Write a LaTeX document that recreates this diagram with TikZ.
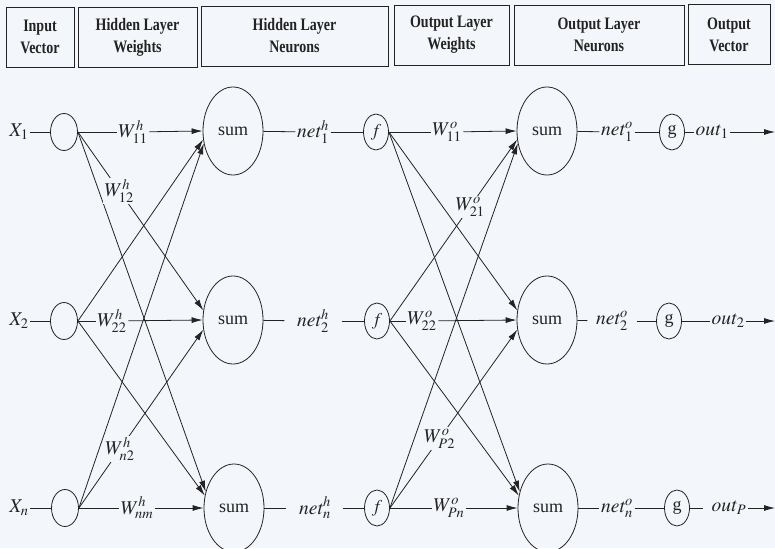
\documentclass[tikz,border=0pt]{standalone}
\usepackage{mathptmx}
\usepackage{fontspec}
\setmainfont{Liberation Serif}
\newfontfamily\hdrfont{Liberation Serif}[FakeStretch=0.8]
\usetikzlibrary{shapes.geometric,arrows.meta}
\definecolor{bg}{RGB}{243,246,250}
\definecolor{ink}{RGB}{35,35,35}
\begin{document}
\begin{tikzpicture}[x=1pt,y=-1pt,
  every node/.style={font=\fontsize{18}{21}\selectfont, text=ink},
  hdr/.style={draw=ink, line width=0.8pt, align=center, inner sep=0pt,
    font=\hdrfont\bfseries\fontsize{17.5}{22}\selectfont},
  innode/.style={ellipse, draw=ink, line width=0.8pt, minimum width=27pt, minimum height=37pt, inner sep=0pt},
  sumnode/.style={ellipse, draw=ink, line width=0.8pt, minimum width=60pt, minimum height=88pt, inner sep=0pt},
  fnode/.style={ellipse, draw=ink, line width=0.8pt, minimum width=25pt, minimum height=36pt, inner sep=0pt},
  lbl/.style={fill=bg, inner sep=1.5pt, font=\fontsize{19.5}{22}\selectfont},
  wire/.style={draw=ink, line width=0.8pt},
  arr/.style={wire, -{Latex[length=11pt,width=6pt]}}]
\fill[bg] (0,0) rectangle (775,548);
\useasboundingbox (0,0) rectangle (775,548);

% header
\node[hdr, minimum width=68pt, minimum height=60pt] (h1) at (40,37) {Input\\Vector};
\node[hdr, minimum width=119pt, minimum height=60pt] (h2) at (137.5,37) {Hidden Layer\\Weights};
\node[hdr, minimum width=187pt, minimum height=60pt] (h3) at (294.5,36) {Hidden Layer\\Neurons};
\node[hdr, minimum width=115pt, minimum height=60pt] (h4) at (451.5,35) {Output Layer\\Weights};
\node[hdr, minimum width=170pt, minimum height=60pt] (h5) at (599,35) {Output Layer\\Neurons};
\node[hdr, minimum width=82pt, minimum height=60pt] (h6) at (729,34.5) {Output\\Vector};

% input
\node[lbl] (x1) at (19,132) {$X_1$};
\node[lbl] (x2) at (19,321) {$X_2$};
\node[lbl] (x3) at (19,508) {$X_n$};
\node[innode] (in1) at (64,132) {};
\node[innode] (in2) at (64,321) {};
\node[innode] (in3) at (65,508) {};

% hidden neurons
\node[sumnode] (s1) at (233,131) {sum};
\node[sumnode] (s2) at (233,320) {sum};
\node[sumnode] (s3) at (234,508) {sum};
\node[lbl] (nh1) at (313,132) {$\mathit{net}^h_1$};
\node[lbl] (nh2) at (313,321) {$\mathit{net}^h_2$};
\node[lbl] (nh3) at (315,508) {$\mathit{net}^h_n$};
\node[fnode] (f1) at (376,132) {$f$};
\node[fnode] (f2) at (377,321) {$f$};
\node[fnode] (f3) at (377,508) {$f$};

% output neurons
\node[sumnode] (os1) at (547,131) {sum};
\node[sumnode] (os2) at (547,320) {sum};
\node[sumnode] (os3) at (548,508) {sum};
\node[lbl] (no1) at (617,132) {$\mathit{net}^o_1$};
\node[lbl] (no2) at (612,321) {$\mathit{net}^o_2$};
\node[lbl] (no3) at (617,508) {$\mathit{net}^o_n$};
\node[fnode] (g1) at (672,132) {g};
\node[fnode] (g2) at (669,321) {g};
\node[fnode] (g3) at (677,508) {g};
\node[lbl] (o1) at (712,132) {$\mathit{out}_1$};
\node[lbl] (o2) at (728,321) {$\mathit{out}_2$};
\node[lbl] (o3) at (729,508) {$\mathit{out}_P$};
\coordinate (e1) at (775,132);
\coordinate (e2) at (775,321);
\coordinate (e3) at (775,508);

% horizontal weight labels
\node[lbl] (w11) at (133,132) {$W^h_{11}$};
\node[lbl] (w22) at (112,321) {$W^h_{22}$};
\node[lbl] (wnm) at (137,508) {$W^h_{nm}$};
\node[lbl] (wo11) at (447,132) {$W^o_{11}$};
\node[lbl] (wo22) at (422,321) {$W^o_{22}$};
\node[lbl] (wopn) at (449,508) {$W^o_{Pn}$};

% unlabeled cross connections
\draw[arr] (in1.east) -- (s3.150);
\draw[arr] (in2.east) -- (s1.196);
\draw[arr] (in2.east) -- (s3.157);
\draw[arr] (in3.east) -- (s1.203);
\draw[arr] (f1.east) -- (os2.162);
\draw[arr] (f1.east) -- (os3.150);
\draw[arr] (f2.east) -- (os3.157);
\draw[arr] (f3.east) -- (os1.203);

% labeled cross connections
\draw[arr] (in1.east) -- node[lbl,pos=.33] (w12) {$W^h_{12}$} (s2.162);
\draw[arr] (in3.east) -- node[lbl,pos=.33] (wn2) {$W^h_{n2}$} (s2.198);
\draw[arr] (f2.east) -- node[lbl,pos=.63] (wo21) {$W^o_{21}$} (os1.196);
\draw[arr] (f3.east) -- node[lbl,pos=.39] (wop2) {$W^o_{P2}$} (os2.198);

% straight rows
\draw[wire] (x1) -- (in1);
\draw[wire] (x2) -- (in2);
\draw[wire] (x3) -- (in3);
\draw[wire] (in1) -- (w11);
\draw[arr] (w11) -- (s1.west);
\draw[wire] (in2) -- (w22);
\draw[arr] (w22) -- (s2.west);
\draw[wire] (in3) -- (wnm);
\draw[arr] (wnm) -- (s3.west);

\draw[wire] (s1) -- (nh1);
\draw[wire] (nh1) -- (f1);
\draw[wire, shorten >=11pt] (s2) -- (nh2);
\draw[wire, shorten <=11pt] (nh2) -- (f2);
\draw[wire, shorten >=11pt] (s3) -- (nh3);
\draw[wire, shorten <=10pt] (nh3) -- (f3);

\draw[wire] (f1) -- (wo11);
\draw[arr] (wo11) -- (os1.west);
\draw[wire] (f2) -- (wo22);
\draw[arr] (wo22) -- (os2.west);
\draw[wire] (f3) -- (wopn);
\draw[arr] (wopn) -- (os3.west);

\draw[wire] (os1) -- (no1);
\draw[wire] (no1) -- (g1);
\draw[wire] (g1) -- (o1);
\draw[arr] (o1) -- (e1);
\draw[wire, shorten >=7pt] (os2) -- (no2);
\draw[wire, shorten <=7pt] (no2) -- (g2);
\draw[wire] (g2) -- (o2);
\draw[arr] (o2) -- (e2);
\draw[wire] (os3) -- (no3);
\draw[wire] (no3) -- (g3);
\draw[wire, shorten >=7pt] (g3) -- (o3);
\draw[arr] (o3) -- (e3);
\end{tikzpicture}
\end{document}
